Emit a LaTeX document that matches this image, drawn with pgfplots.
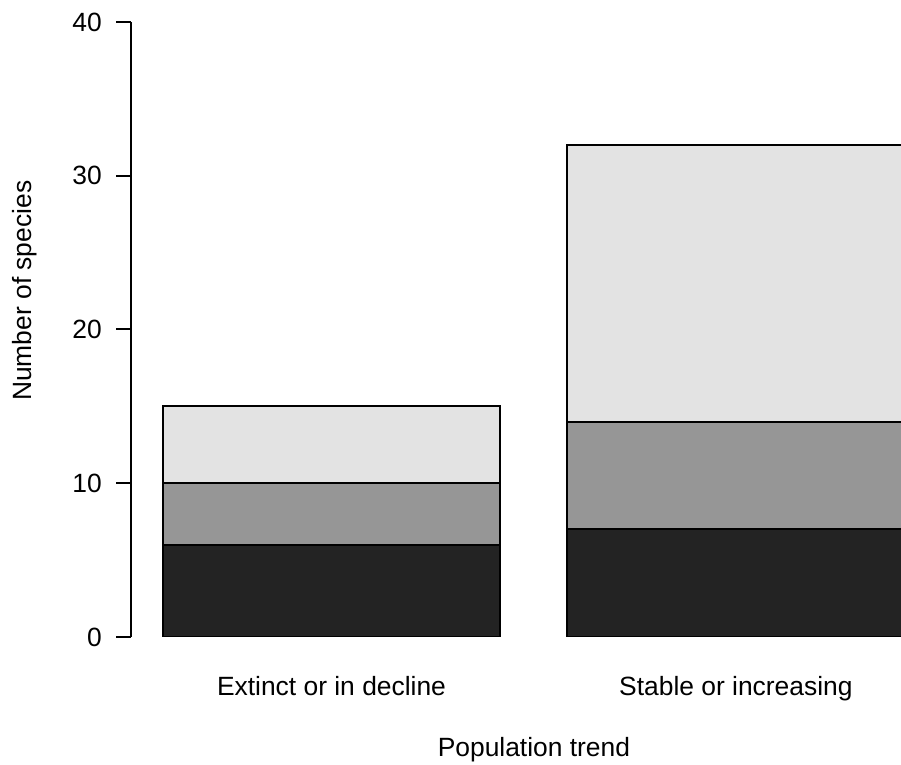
\documentclass[border=0pt]{standalone}
\usepackage{fontspec}
\setmainfont{Liberation Sans}
\usepackage{pgfplots}
\pgfplotsset{compat=1.18}
\definecolor{cdark}{RGB}{35,35,35}
\definecolor{cmid}{RGB}{150,150,150}
\definecolor{clight}{RGB}{227,227,227}
\begin{document}
\begin{tikzpicture}
\begin{axis}[
  name=ax,
  scale only axis,
  width=384.75pt, height=307.5pt,
  xmin=0.1065, xmax=2.39,
  ymin=0, ymax=40,
  axis y line*=left,
  axis x line*=bottom,
  x axis line style={draw=none},
  y axis line style={line width=1pt, black},
  xtick={0.7,1.9},
  xticklabels={Extinct or in decline, Stable or increasing},
  xtick style={draw=none},
  ytick={0,10,20,30,40},
  ytick style={line width=1pt, black},
  tick align=outside,
  major tick length=7.5pt,
  /pgf/number format/assume math mode=true,
  tick label style={font=\fontsize{13.2}{15}\selectfont},
  yticklabel style={anchor=east, inner sep=0pt, xshift=-7.15pt},
  xticklabel style={anchor=base, inner sep=0pt, yshift=-22pt},
  label style={font=\fontsize{13.2}{15}\selectfont},
  xlabel={Population trend},
  xlabel style={at={(axis description cs:0.523,0)}, anchor=base, inner sep=0pt, yshift=-59.85pt},
  ylabel={Number of species},
  ylabel style={at={([xshift=-49.9pt]axis description cs:0,0.563)}, anchor=base, inner sep=0pt},
  ybar stacked,
  bar width=1,
  bar shift=0pt,
  every axis plot/.append style={draw=black, line width=1pt},
]
\addplot[fill=cdark] coordinates {(0.7,6) (1.9,7)};
\addplot[fill=cmid] coordinates {(0.7,4) (1.9,7)};
\addplot[fill=clight] coordinates {(0.7,5) (1.9,18)};
\end{axis}
\pgfresetboundingbox
\path[use as bounding box] ([shift={(-65.75pt,-64pt)}]ax.south west) rectangle ([shift={(0pt,11pt)}]ax.north east);
\end{tikzpicture}
\end{document}
